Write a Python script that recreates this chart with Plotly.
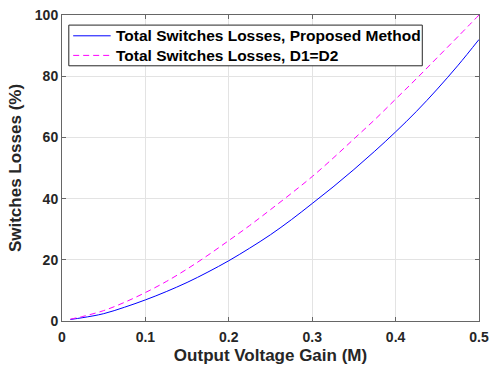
import plotly.graph_objects as go

# Output voltage gain (M) sample points
gain = [0.01, 0.025, 0.05, 0.075, 0.10, 0.125, 0.15, 0.175, 0.20, 0.225, 0.25,
        0.275, 0.30, 0.325, 0.35, 0.375, 0.40, 0.425, 0.45, 0.475, 0.50]

# Total switches losses (%)
loss_proposed = [0.5, 1.1, 2.4, 4.5, 6.9, 9.6, 12.6, 16.0, 19.7, 23.8, 28.2,
                 33.1, 38.4, 43.8, 49.5, 55.5, 61.8, 68.5, 75.8, 83.6, 92.0]
loss_equal_duty = [0.6, 1.5, 3.4, 6.1, 9.3, 12.9, 17.0, 21.5, 26.3, 31.2, 36.4,
                   41.7, 47.2, 53.2, 59.5, 65.8, 72.5, 79.2, 86.1, 93.0, 100.0]

series_names = ["Total Switches Losses, Proposed Method", "Total Switches Losses, D1=D2"]
series_colors = ["#0000FF", "#FF00FF"]
series_dash = ["solid", "6px,4px"]

x_ticks = [0, 0.1, 0.2, 0.3, 0.4, 0.5]
y_ticks = [0, 20, 40, 60, 80, 100]

FONT = "Liberation Sans, Arial, sans-serif"
AXIS_GREY = "#666666"
TEXT_DARK = "#262626"

fig = go.Figure()
for ys, name, color, dash in zip([loss_proposed, loss_equal_duty], series_names,
                                 series_colors, series_dash):
    fig.add_trace(go.Scatter(
        x=gain, y=ys, mode="lines", line_shape="spline", name=name,
        line=dict(color=color, width=1, dash=dash),
    ))

axis_common = dict(
    showline=True, linecolor=AXIS_GREY, linewidth=1, mirror="ticks",
    ticks="inside", ticklen=4, tickcolor=AXIS_GREY,
    showgrid=True, gridcolor="#e3e3e3", gridwidth=1, zeroline=False,
    automargin=False,
    tickfont=dict(family=FONT, size=14, color=TEXT_DARK, weight="bold"),
)

fig.update_xaxes(
    range=[0, 0.5], tickvals=x_ticks, ticktext=[f"{v:g}" for v in x_ticks],
    ticklabelstandoff=3,
    title=dict(text="Output Voltage Gain (M)", standoff=16,
               font=dict(family=FONT, size=17, color=TEXT_DARK, weight="bold")),
    **axis_common,
)
fig.update_yaxes(
    range=[0, 100], tickvals=y_ticks,
    title=dict(text="Switches Losses (%)", standoff=8,
               font=dict(family=FONT, size=17, color=TEXT_DARK, weight="bold")),
    **axis_common,
)

# Boxed legend drawn in paper coordinates (inside the upper-left of the axes)
box_x0, box_x1 = 0.0163, 0.864
box_y0, box_y1 = 0.834, 0.967
row_y = [0.932, 0.868]
sample_x0, sample_x1 = 0.0268, 0.1167
text_x = 0.1256

shapes = [dict(type="rect", xref="paper", yref="paper",
               x0=box_x0, x1=box_x1, y0=box_y0, y1=box_y1,
               line=dict(color=TEXT_DARK, width=1), fillcolor="white", layer="above")]
annotations = []
for ry, name, color, dash in zip(row_y, series_names, series_colors, series_dash):
    shapes.append(dict(type="line", xref="paper", yref="paper",
                       x0=sample_x0, x1=sample_x1, y0=ry, y1=ry,
                       line=dict(color=color, width=1, dash=dash), layer="above"))
    annotations.append(dict(xref="paper", yref="paper", x=text_x, y=ry,
                            xanchor="left", yanchor="middle", showarrow=False,
                            text=name,
                            font=dict(family=FONT, size=15.5, color="#000000",
                                      weight="bold")))

fig.update_layout(
    width=489, height=365,
    margin=dict(l=61.5, r=9.5, t=15, b=44.3),
    paper_bgcolor="white", plot_bgcolor="white",
    showlegend=False,
    shapes=shapes, annotations=annotations,
)

fig.write_html("out.html")
